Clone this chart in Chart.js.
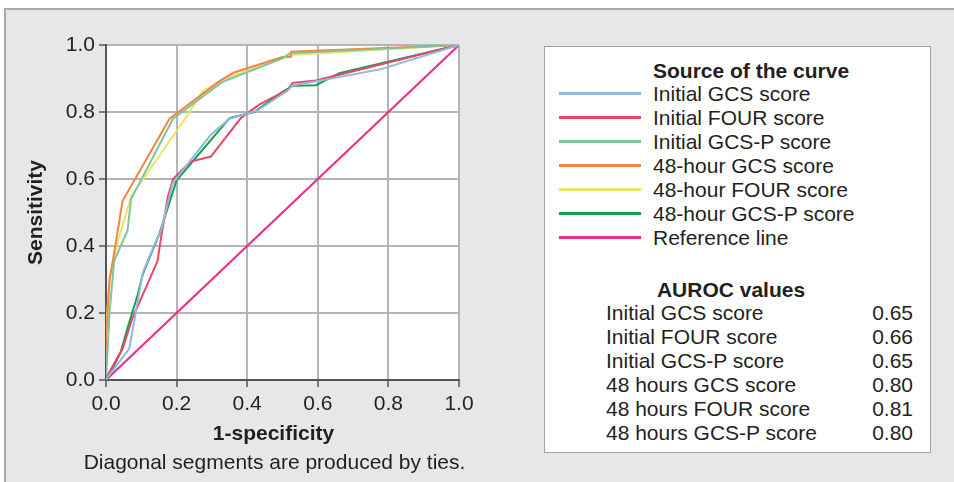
<!DOCTYPE html>
<html>
<head>
<meta charset="utf-8">
<script src="https://cdn.jsdelivr.net/npm/chart.js@4"></script>
<style>
  body { margin: 0; background: #fff; font-family: "Liberation Sans", Arial, sans-serif; color: #231f20; }
  #frame { position: absolute; left: 4px; top: 8px; width: 950px; height: 474px; background: #e6e7e8;
           border-left: 2px solid #a7a9ac; border-top: 2px solid #a7a9ac; box-sizing: border-box; }
  #wrap { position: absolute; left: 0; top: 0; width: 954px; height: 482px; }
  #legend { position: absolute; left: 544px; top: 46px; width: 387px; height: 407px; background: #fff;
            border: 1.5px solid #a3a3a3; box-sizing: border-box; font-size: 21px; }
  .row { position: absolute; left: 0; height: 24px; line-height: 24px; white-space: nowrap; }
  .swatch { position: absolute; left: 14px; top: 10px; width: 82px; height: 3px; }
  .lbl { position: absolute; left: 108px; }
  .ttl { position: absolute; font-weight: bold; white-space: nowrap; line-height: 24px; }
  .au { position: absolute; left: 61px; white-space: nowrap; line-height: 24px; }
  .av { position: absolute; right: 17px; white-space: nowrap; line-height: 24px; }
  #xtitle { position: absolute; left: 0; width: 547px; text-align: center; top: 421px; font-size: 21px;
            font-weight: bold; line-height: 24px; }
  #caption { position: absolute; left: 0; width: 549px; text-align: center; top: 450px; font-size: 21px; line-height: 24px; }
</style>
</head>
<body>
<div id="frame"></div>
<div id="wrap"><canvas id="roc" width="954" height="482"></canvas></div>
<div id="legend"></div>
<div id="xtitle">1-specificity</div>
<div id="caption">Diagonal segments are produced by ties.</div>
<script>
// ROC curve points
const initGcsX = [0, 0.006, 0.066, 0.08, 0.104, 0.142, 0.156, 0.189, 0.25, 0.297, 0.35, 0.397, 0.43, 0.515, 0.529, 0.604, 0.78, 1];
const initGcsY = [0, 0.01, 0.094, 0.175, 0.32, 0.416, 0.446, 0.587, 0.67, 0.732, 0.78, 0.794, 0.805, 0.864, 0.88, 0.893, 0.928, 1];

const initFourX = [0, 0.005, 0.047, 0.075, 0.146, 0.156, 0.16, 0.175, 0.19, 0.24, 0.297, 0.382, 0.434, 0.515, 0.529, 0.595, 1];
const initFourY = [0, 0.015, 0.094, 0.185, 0.355, 0.426, 0.45, 0.546, 0.6, 0.652, 0.667, 0.782, 0.822, 0.867, 0.887, 0.894, 1];

const initGcspX = [0, 0.01, 0.023, 0.061, 0.071, 0.19, 0.33, 0.5, 0.52, 1];
const initGcspY = [0, 0.2, 0.355, 0.446, 0.54, 0.78, 0.89, 0.96, 0.975, 1];

const h48GcsX = [0, 0, 0.01, 0.02, 0.047, 0.18, 0.326, 0.363, 0.5, 0.524, 0.524, 1];
const h48GcsY = [0, 0.12, 0.3, 0.36, 0.535, 0.78, 0.895, 0.918, 0.964, 0.965, 0.98, 1];

const h48FourX = [0, 0, 0.01, 0.03, 0.071, 0.222, 0.274, 0.326, 0.468, 0.524, 1];
const h48FourY = [0, 0.15, 0.3, 0.4, 0.548, 0.777, 0.862, 0.895, 0.949, 0.97, 1];

const h48GcspX = [0, 0.005, 0.042, 0.061, 0.09, 0.104, 0.151, 0.2, 0.35, 0.42, 0.5, 0.529, 0.595, 0.661, 1];
const h48GcspY = [0, 0.004, 0.084, 0.155, 0.255, 0.315, 0.436, 0.596, 0.782, 0.8, 0.86, 0.878, 0.88, 0.916, 1];

const refX = [0, 1];
const refY = [0, 1];

const seriesNames = ['Initial GCS score', 'Initial FOUR score', 'Initial GCS-P score', '48-hour GCS score',
                     '48-hour FOUR score', '48-hour GCS-P score', 'Reference line'];
const seriesColors = ['#94b7de', '#ea4566', '#80c49c', '#f5843f', '#e9e46a', '#12a04c', '#ee2a8f'];

const aurocNames = ['Initial GCS score', 'Initial FOUR score', 'Initial GCS-P score', '48 hours GCS score',
                    '48 hours FOUR score', '48 hours GCS-P score'];
const aurocValues = ['0.65', '0.66', '0.65', '0.80', '0.81', '0.80'];

const axisTicks = [0, 0.2, 0.4, 0.6, 0.8, 1.0];

function pts(xs, ys) {
    return xs.map((x, i) => ({x: x, y: ys[i]}));
}

const allX = [initGcsX, initFourX, initGcspX, h48GcsX, h48FourX, h48GcspX, refX];
const allY = [initGcsY, initFourY, initGcspY, h48GcsY, h48FourY, h48GcspY, refY];

const datasets = seriesNames.map((name, i) => ({
    label: name,
    data: pts(allX[i], allY[i]),
    borderColor: seriesColors[i],
    borderWidth: 2,
    showLine: true,
    pointRadius: 0,
    tension: 0
}));

// white plot area
const plotBg = {
    id: 'plotBg',
    beforeDraw(chart) {
        const a = chart.chartArea;
        chart.ctx.save();
        chart.ctx.fillStyle = '#fff';
        chart.ctx.fillRect(a.left, a.top, a.right - a.left, a.bottom - a.top);
        chart.ctx.restore();
    }
};

Chart.defaults.font.family = '"Liberation Sans", Arial, sans-serif';
Chart.defaults.color = '#231f20';

new Chart(document.getElementById('roc'), {
    type: 'scatter',
    data: {datasets: datasets},
    plugins: [plotBg],
    options: {
        responsive: false,
        animation: false,
        layout: {padding: {left: 24, top: 45, right: 495, bottom: 36}},
        plugins: {legend: {display: false}, tooltip: {enabled: false}},
        scales: {
            x: {
                type: 'linear', min: 0, max: 1,
                afterFit: s => { s.height = 66; },
                afterBuildTicks: s => { s.ticks = axisTicks.map(v => ({value: v})); },
                ticks: {font: {size: 21}, padding: 5, callback: v => v.toFixed(1), color: '#231f20'},
                grid: {color: '#b5b5b5', lineWidth: 2, tickLength: 7, tickColor: '#555', tickWidth: 1.5},
                border: {color: '#555', width: 2}
            },
            y: {
                type: 'linear', min: 0, max: 1,
                afterFit: s => { s.width = 82; },
                afterBuildTicks: s => { s.ticks = axisTicks.map(v => ({value: v})); },
                ticks: {font: {size: 21}, padding: 4, callback: v => v.toFixed(1), color: '#231f20'},
                grid: {color: '#b5b5b5', lineWidth: 2, tickLength: 7, tickColor: '#555', tickWidth: 1.5},
                border: {color: '#555', width: 2},
                title: {display: true, text: 'Sensitivity', font: {size: 21, weight: 'bold'}, padding: 0, color: '#231f20'}
            }
        }
    }
});

// legend panel
const lg = document.getElementById('legend');
let html = '<div class="ttl" style="left:108px;top:12px">Source of the curve</div>';
seriesNames.forEach((n, i) => {
    html += '<div class="row" style="top:' + (35 + i * 24) + 'px;width:100%">' +
        '<div class="swatch" style="background:' + seriesColors[i] + '"></div>' +
        '<div class="lbl">' + n + '</div></div>';
});
html += '<div class="ttl" style="left:0;width:372px;text-align:center;top:231px">AUROC values</div>';
aurocNames.forEach((n, i) => {
    const top = 254 + i * 24;
    html += '<div class="au" style="top:' + top + 'px">' + n + '</div>';
    html += '<div class="av" style="top:' + top + 'px">' + aurocValues[i] + '</div>';
});
lg.innerHTML = html;
</script>
</body>
</html>
